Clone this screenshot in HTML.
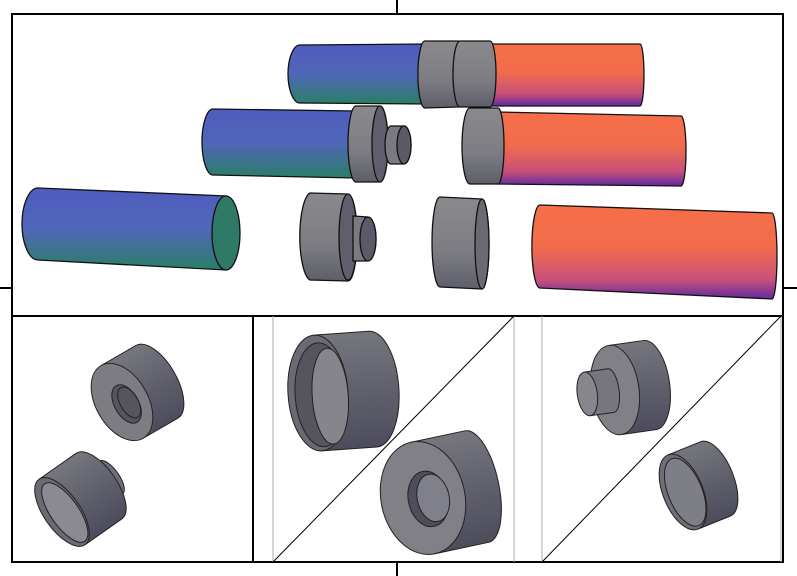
<!DOCTYPE html>
<html><head><meta charset="utf-8"><style>html,body{margin:0;padding:0;background:#fff}svg{display:block}</style></head><body>
<svg width="797" height="576" viewBox="0 0 797 576" xmlns="http://www.w3.org/2000/svg">
<defs>
<linearGradient id="bl" x1="0" y1="0" x2="0" y2="1"><stop offset="0" stop-color="#4f5cbf"/><stop offset="0.5" stop-color="#5066b8"/><stop offset="1" stop-color="#2a7f66"/></linearGradient>
<linearGradient id="or" x1="0" y1="0" x2="0" y2="1"><stop offset="0" stop-color="#f66f48"/><stop offset="0.45" stop-color="#f26c4c"/><stop offset="0.8" stop-color="#c8507a"/><stop offset="1" stop-color="#5e2aa0"/></linearGradient>
<linearGradient id="gr" x1="0" y1="0" x2="0" y2="1"><stop offset="0" stop-color="#8a8a8e"/><stop offset="0.6" stop-color="#7c7c82"/><stop offset="1" stop-color="#5e5e6a"/></linearGradient>
<linearGradient id="gd" x1="0" y1="0" x2="0" y2="1"><stop offset="0" stop-color="#76767e"/><stop offset="1" stop-color="#4c4c5c"/></linearGradient>
</defs>
<g fill="none" stroke="#000" stroke-width="2">
<rect x="12" y="14" width="771" height="548"/>
<line x1="397" y1="0" x2="397" y2="14"/><line x1="397" y1="562" x2="397" y2="576"/>
<line x1="0" y1="288" x2="12" y2="288"/><line x1="783" y1="288" x2="797" y2="288"/>
<line x1="12" y1="316" x2="783" y2="316"/>
<line x1="253" y1="316" x2="253" y2="562"/>
</g>
<g stroke="#aaa" stroke-width="1"><line x1="273" y1="316" x2="273" y2="562"/><line x1="514" y1="316" x2="514" y2="562"/><line x1="542" y1="316" x2="542" y2="562"/><line x1="781" y1="316" x2="781" y2="562"/></g>
<g stroke="#000" stroke-width="1"><line x1="273" y1="562" x2="514" y2="316"/><line x1="542" y1="562" x2="781" y2="316"/></g>

<g stroke="#111" stroke-width="1.3">
<path d="M300,45 L425,44 L425,104 L300,103 A12,29 0 0 1 300,45Z" fill="url(#bl)"/>
<path d="M492,44 L640,44 A4,31 0 0 1 640,106 L492,106Z" fill="url(#or)"/>
<path d="M425,41 L458,41 A6,33 0 0 1 458,107 L425,108 A7,33 0 0 1 425,41Z" fill="url(#gr)"/>
<path d="M460,41 L490,41 A6,33 0 0 1 490,107 L460,107 A7,33 0 0 1 460,41Z" fill="url(#gr)"/>
<path d="M213,109 L355,111 L355,178 L213,175 A11,33 0 0 1 213,109Z" fill="url(#bl)"/>
<path d="M356,106 L380,106 A8,38 0 0 1 380,182 L356,182 A8,38 0 0 1 356,106Z" fill="url(#gr)"/>
<ellipse cx="380" cy="144" rx="8" ry="38" fill="#5e5e6c"/>
<path d="M391,126 L404,126 A7,19 0 0 1 404,164 L391,164 A6,19 0 0 1 391,126Z" fill="#7a7a80"/>
<ellipse cx="404" cy="145" rx="7" ry="19" fill="#5a5a68"/>
<path d="M498,112 L681,116 A5,35 0 0 1 681,186 L498,184Z" fill="url(#or)"/>
<path d="M470,108 L498,108 A6,38 0 0 1 498,184 L470,184 A8,38 0 0 1 470,108Z" fill="url(#gr)"/>
<path d="M38,188 L226,196 L226,270 L38,260 A16,36 0 0 1 38,188Z" fill="url(#bl)"/>
<ellipse cx="226" cy="233" rx="14" ry="37" fill="#2e7a66"/>
<path d="M310,193 L348,194 A9,43 0 0 1 348,281 L310,280 A12,44 0 0 1 310,193Z" fill="url(#gr)"/>
<ellipse cx="348" cy="237" rx="9" ry="43" fill="#5e5e6c"/>
<path d="M353,216 L368,217 A8,22 0 0 1 368,261 L353,261Z" fill="#7a7a80"/>
<ellipse cx="368" cy="239" rx="8" ry="22" fill="#5a5a68"/>
<path d="M440,197 L482,199 A7,45 0 0 1 482,289 L440,287 A8,45 0 0 1 440,197Z" fill="url(#gr)"/>
<ellipse cx="482" cy="244" rx="7" ry="45" fill="#6a6a74"/>
<path d="M540,205 L772,213 A5,43 0 0 1 772,299 L540,288 A8,41 0 0 1 540,205Z" fill="url(#or)"/>
</g>

<g stroke="#222" stroke-width="1">
<g transform="translate(122,402) rotate(-30)">
<path d="M0,-42 L40,-42 A20,42 0 0 1 40,42 L0,42Z" fill="url(#gd)"/>
<ellipse cx="0" cy="0" rx="26" ry="42" fill="#7c7c82"/>
<ellipse cx="3" cy="4" rx="12" ry="21" fill="#55555f"/>
<ellipse cx="6" cy="4" rx="9" ry="17" fill="none"/>
</g>
<g transform="translate(62,512) rotate(-35)">
<path d="M45,-20 L60,-20 A8,20 0 0 1 60,20 L45,20Z" fill="#6e6e78"/>
<path d="M0,-40 L45,-40 A18,40 0 0 1 45,40 L0,40Z" fill="url(#gd)"/>
<ellipse cx="0" cy="0" rx="18" ry="40" fill="#6a6a74"/>
<ellipse cx="2" cy="2" rx="14" ry="35" fill="#8a8a90"/>
</g>
<g transform="translate(318,393) rotate(-4)">
<path d="M0,-58 L55,-58 A26,58 0 0 1 55,58 L0,58Z" fill="url(#gd)"/>
<ellipse cx="0" cy="0" rx="30" ry="58" fill="#6a6a74"/>
<ellipse cx="3" cy="2" rx="26" ry="52" fill="#55555f"/>
<ellipse cx="12" cy="4" rx="18" ry="48" fill="#85858b"/>
</g>
<g transform="translate(423,498) rotate(-12)">
<path d="M0,-57 L55,-57 A22,57 0 0 1 55,57 L0,57Z" fill="url(#gd)"/>
<ellipse cx="0" cy="0" rx="42" ry="57" fill="#808086"/>
<ellipse cx="5" cy="2" rx="20" ry="28" fill="#4e4e5a"/>
<ellipse cx="10" cy="2" rx="16" ry="24" fill="#80808a"/>
</g>
<g transform="translate(615,390) rotate(-8)">
<path d="M0,-45 L35,-45 A20,45 0 0 1 35,45 L0,45Z" fill="url(#gd)"/>
<ellipse cx="0" cy="0" rx="24" ry="45" fill="#808086"/>
<path d="M-28,-22 L-4,-22 A8,22 0 0 1 -4,22 L-28,22Z" fill="#76767e"/>
<ellipse cx="-28" cy="0" rx="10" ry="22" fill="#86868c"/>
</g>
<g transform="translate(683,492) rotate(-22)">
<path d="M0,-40 L35,-40 A18,40 0 0 1 35,40 L0,40Z" fill="url(#gd)"/>
<ellipse cx="0" cy="0" rx="20" ry="40" fill="#6e6e78"/>
<ellipse cx="2" cy="1" rx="17" ry="36" fill="#7e7e86"/>
</g>
</g>
</svg>
</body></html>
